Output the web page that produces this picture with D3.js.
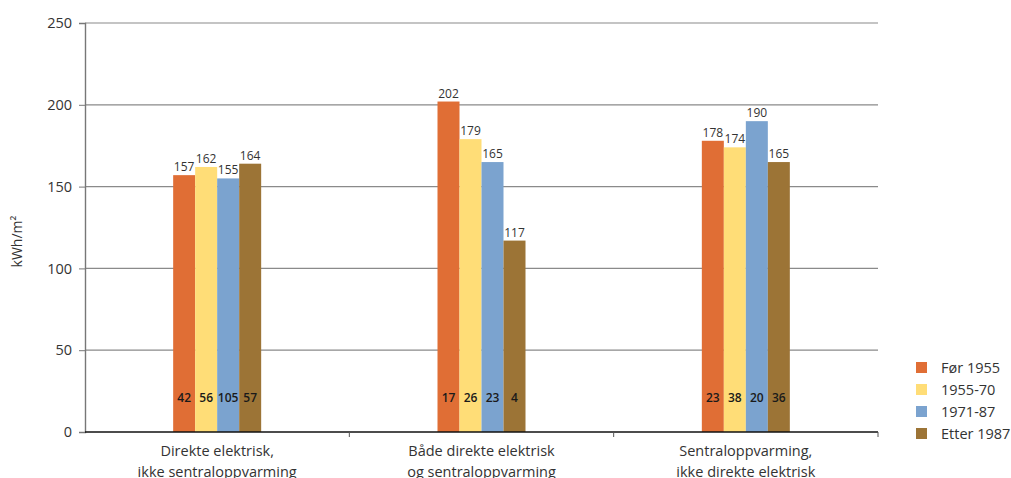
<!DOCTYPE html>
<html>
<head>
<meta charset="utf-8">
<script src="https://cdn.jsdelivr.net/npm/d3@7"></script>
<style>
  body { margin: 0; background: #fff; }
  svg { display: block; font-family: "Open Sans", "Noto Sans", sans-serif; }
</style>
</head>
<body>
<svg id="chart" width="1011" height="478"></svg>
<script>
// Heating type categories (two-line labels)
const categories = [
  ["Direkte elektrisk,", "ikke sentraloppvarming"],
  ["Både direkte elektrisk", "og sentraloppvarming"],
  ["Sentraloppvarming,", "ikke direkte elektrisk"]
];
const seriesNames = ["Før 1955", "1955-70", "1971-87", "Etter 1987"];
const seriesColors = ["#E06E35", "#FFDD77", "#7BA3CF", "#9C7436"];

// Energy use, kWh/m², per category, by construction period
const energyUse = [
  [157, 162, 155, 164],
  [202, 179, 165, 117],
  [178, 174, 190, 165]
];
// Number of buildings in each group
const counts = [
  [42, 56, 105, 57],
  [17, 26, 23, 4],
  [23, 38, 20, 36]
];
const yTicks = [0, 50, 100, 150, 200, 250];

const svg = d3.select("#chart");
const margin = { left: 85, right: 133, top: 23, bottom: 46 };
const W = 1011, H = 478;
const x0 = margin.left, x1 = W - margin.right;
const yTop = margin.top, yBot = H - margin.bottom;

const y = d3.scaleLinear().domain([0, 250]).range([yBot, yTop]);
const xBand = d3.scaleBand().domain(d3.range(categories.length)).range([x0, x1]);
const barW = 22;
const xInner = d3.scaleBand().domain(d3.range(seriesNames.length))
  .range([0, barW * seriesNames.length]);

// Gridlines
svg.append("g").selectAll("line").data(yTicks.filter(d => d > 0)).join("line")
  .attr("x1", x0).attr("x2", x1)
  .attr("y1", d => y(d)).attr("y2", d => y(d))
  .attr("stroke", "#8a8a8a").attr("stroke-width", 1.2);

// Y axis
const yAxis = svg.append("g").attr("transform", `translate(${x0},0)`)
  .call(d3.axisLeft(y).tickValues(yTicks).tickSize(6).tickPadding(7));
yAxis.select(".domain").attr("stroke", "#777").attr("stroke-width", 1.4);
yAxis.selectAll(".tick line").attr("stroke", "#777");
yAxis.selectAll(".tick text").attr("font-size", 14.5).attr("fill", "#333")
  .attr("font-family", "Open Sans, sans-serif");

// Y axis title
svg.append("text")
  .attr("transform", `translate(22,${(yTop + yBot) / 2 + 14}) rotate(-90)`)
  .attr("text-anchor", "middle").attr("font-size", 14).attr("fill", "#333")
  .text("kWh/m²");

// Bars
const groups = svg.append("g").selectAll("g").data(energyUse).join("g")
  .attr("transform", (d, i) => `translate(${xBand(i) + xBand.bandwidth() / 2 - barW * 2},0)`);

groups.selectAll("rect").data(d => d).join("rect")
  .attr("x", (d, j) => xInner(j))
  .attr("width", xInner.bandwidth())
  .attr("y", d => y(d))
  .attr("height", d => y(0) - y(d))
  .attr("fill", (d, j) => seriesColors[j]);

// Value labels above bars
groups.selectAll("text.val").data(d => d).join("text").attr("class", "val")
  .attr("x", (d, j) => xInner(j) + xInner.bandwidth() / 2)
  .attr("y", d => y(d) - 4)
  .attr("text-anchor", "middle").attr("font-size", 12).attr("fill", "#333")
  .text(d => d);

// Building counts inside bars
groups.selectAll("text.cnt").data((d, i) => counts[i]).join("text").attr("class", "cnt")
  .attr("x", (d, j) => xInner(j) + xInner.bandwidth() / 2)
  .attr("y", y(0) - 30)
  .attr("text-anchor", "middle").attr("font-size", 12).attr("font-weight", 600)
  .attr("fill", "#1a1a1a")
  .text(d => d);

// X axis
const xAxis = svg.append("g").attr("transform", `translate(0,${yBot})`);
xAxis.append("line").attr("x1", x0).attr("x2", x1).attr("stroke", "#111").attr("stroke-width", 1.4);
xAxis.selectAll("line.tk").data(d3.range(categories.length + 1).slice(1)).join("line")
  .attr("class", "tk")
  .attr("x1", i => x0 + xBand.step() * i).attr("x2", i => x0 + xBand.step() * i)
  .attr("y1", 0).attr("y2", 5).attr("stroke", "#555");

const catLabels = xAxis.selectAll("text").data(categories).join("text")
  .attr("x", (d, i) => xBand(i) + xBand.bandwidth() / 2)
  .attr("text-anchor", "middle").attr("font-size", 14.5).attr("fill", "#333");
catLabels.selectAll("tspan").data(d => d).join("tspan")
  .attr("x", function () { return d3.select(this.parentNode).attr("x"); })
  .attr("y", (d, k) => 24 + k * 21)
  .text(d => d);

// Legend
const legend = svg.append("g").attr("transform", "translate(916,362)");
const items = legend.selectAll("g").data(seriesNames).join("g")
  .attr("transform", (d, i) => `translate(0,${i * 22})`);
items.append("rect").attr("width", 11).attr("height", 11)
  .attr("fill", (d, i) => seriesColors[i]);
items.append("text").attr("x", 25).attr("y", 11)
  .attr("font-size", 14.5).attr("fill", "#333").text(d => d);
</script>
</body>
</html>
